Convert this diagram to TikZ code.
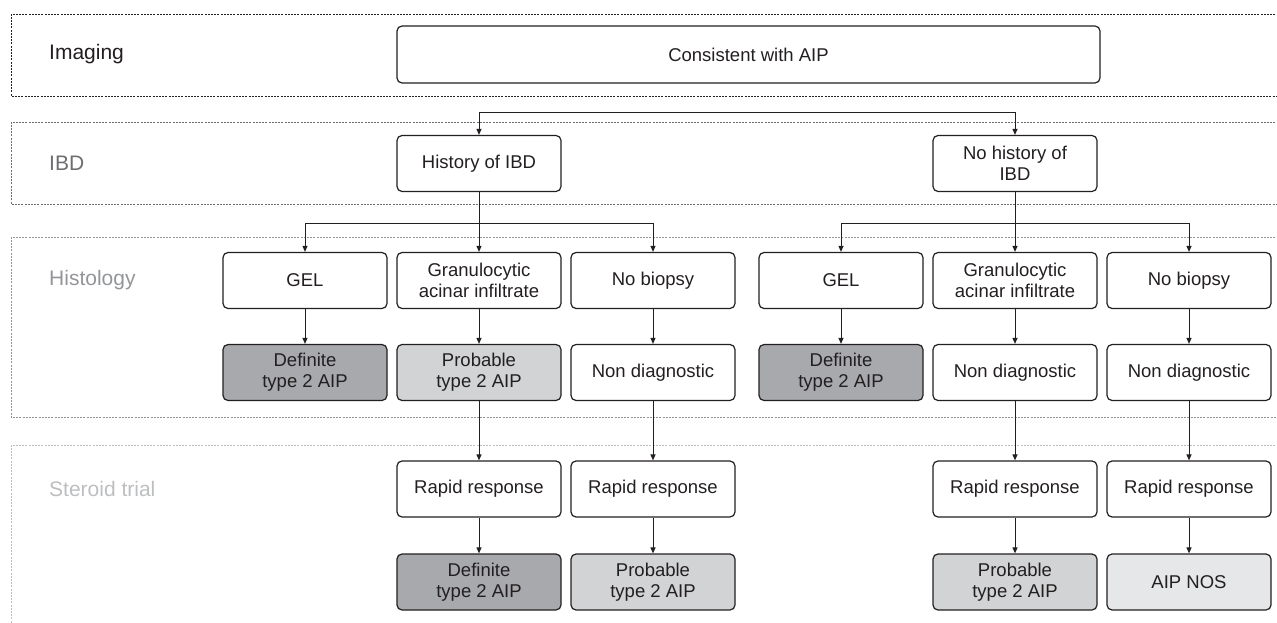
\documentclass[tikz,border=0pt]{standalone}
\usepackage{fontspec}
\setmainfont{Liberation Sans}
\usetikzlibrary{arrows.meta}
\definecolor{dk}{HTML}{231F20}
\definecolor{bandA}{HTML}{231F20}
\definecolor{bandB}{HTML}{6D6E71}
\definecolor{bandC}{HTML}{939598}
\definecolor{bandD}{HTML}{BCBEC0}
\definecolor{fillDef}{HTML}{A7A9AC}
\definecolor{fillProb}{HTML}{D1D3D4}
\definecolor{fillNos}{HTML}{E6E7E8}
\tikzset{
  box/.style={draw=dk, line width=1.2pt, rounded corners=5pt, minimum width=164pt,
    minimum height=56pt, align=center, inner sep=0pt, text=dk,
    font=\fontsize{18.5}{21}\selectfont},
  defbox/.style={box, fill=fillDef},
  probbox/.style={box, fill=fillProb},
  nosbox/.style={box, fill=fillNos},
  lab/.style={anchor=west, inner sep=0pt, font=\fontsize{21}{24}\selectfont},
  band/.style={dash pattern=on 2pt off 1.2pt, line width=0.9pt},
  arr/.style={draw=dk, line width=1pt, -{Triangle[length=6pt,width=5pt]}}
}
\begin{document}
\begin{tikzpicture}[x=1pt,y=-1pt]
\useasboundingbox (0,0) rectangle (1277,623);
\clip (0,0) rectangle (1277,623);
% bands
\draw[band, draw=bandA] (1285,14) -- (11,14) -- (11,96) -- (1285,96);
\draw[band, draw=bandB] (1285,122) -- (11,122) -- (11,204) -- (1285,204);
\draw[band, draw=bandC] (1285,237) -- (11,237) -- (11,417) -- (1285,417);
\draw[band, draw=bandD] (1285,445) -- (11,445) -- (11,630);
% labels
\node[lab, text=bandA] (lImg) at (49,54.5) {Imaging};
\node[lab, text=bandB] (lIbd) at (49,163.5) {IBD};
\node[lab, text=bandC] (lHis) at (49,280.5) {Histology};
\node[lab, text=bandD] (lSte) at (49,489) {Steroid trial};
% nodes
\node[box, minimum width=703pt, minimum height=57pt] (cons) at (748.5,54.5) {Consistent with AIP};
\node[box] (ibd1) at (479,163.5) {History of IBD};
\node[box] (ibd2) at (1015,163.5) {No history of\\IBD};
\node[box] (gel1) at (305,280.5) {GEL};
\node[box] (gra1) at (479,280.5) {Granulocytic\\acinar infiltrate};
\node[box] (nob1) at (653,280.5) {No biopsy};
\node[box] (gel2) at (841,280.5) {GEL};
\node[box] (gra2) at (1015,280.5) {Granulocytic\\acinar infiltrate};
\node[box] (nob2) at (1189,280.5) {No biopsy};
\node[defbox] (def1) at (305,372.5) {Definite\\type 2 AIP};
\node[probbox] (pro1) at (479,372.5) {Probable\\type 2 AIP};
\node[box] (nd1) at (653,372.5) {Non diagnostic};
\node[defbox] (def2) at (841,372.5) {Definite\\type 2 AIP};
\node[box] (nd2) at (1015,372.5) {Non diagnostic};
\node[box] (nd3) at (1189,372.5) {Non diagnostic};
\node[box] (rr1) at (479,489) {Rapid response};
\node[box] (rr2) at (653,489) {Rapid response};
\node[box] (rr3) at (1015,489) {Rapid response};
\node[box] (rr4) at (1189,489) {Rapid response};
\node[defbox] (fd1) at (479,582) {Definite\\type 2 AIP};
\node[probbox] (fp1) at (653,582) {Probable\\type 2 AIP};
\node[probbox] (fp2) at (1015,582) {Probable\\type 2 AIP};
\node[nosbox] (nos) at (1189,582) {AIP NOS};
% junction coordinates
\coordinate (j0) at (748.5,113);
\coordinate (j1) at (479,223);
\coordinate (j2) at (1015,223);
% connectors
\draw[arr] (j0) -| (ibd1.north);
\draw[arr] (j0) -| (ibd2.north);
\draw[arr] (ibd1.south) -- (gra1.north);
\draw[arr] (j1) -| (gel1.north);
\draw[arr] (j1) -| (nob1.north);
\draw[arr] (ibd2.south) -- (gra2.north);
\draw[arr] (j2) -| (gel2.north);
\draw[arr] (j2) -| (nob2.north);
\draw[arr] (gel1) -- (def1);
\draw[arr] (gra1) -- (pro1);
\draw[arr] (nob1) -- (nd1);
\draw[arr] (gel2) -- (def2);
\draw[arr] (gra2) -- (nd2);
\draw[arr] (nob2) -- (nd3);
\draw[arr] (pro1) -- (rr1);
\draw[arr] (nd1) -- (rr2);
\draw[arr] (nd2) -- (rr3);
\draw[arr] (nd3) -- (rr4);
\draw[arr] (rr1) -- (fd1);
\draw[arr] (rr2) -- (fp1);
\draw[arr] (rr3) -- (fp2);
\draw[arr] (rr4) -- (nos);
\end{tikzpicture}
\end{document}
